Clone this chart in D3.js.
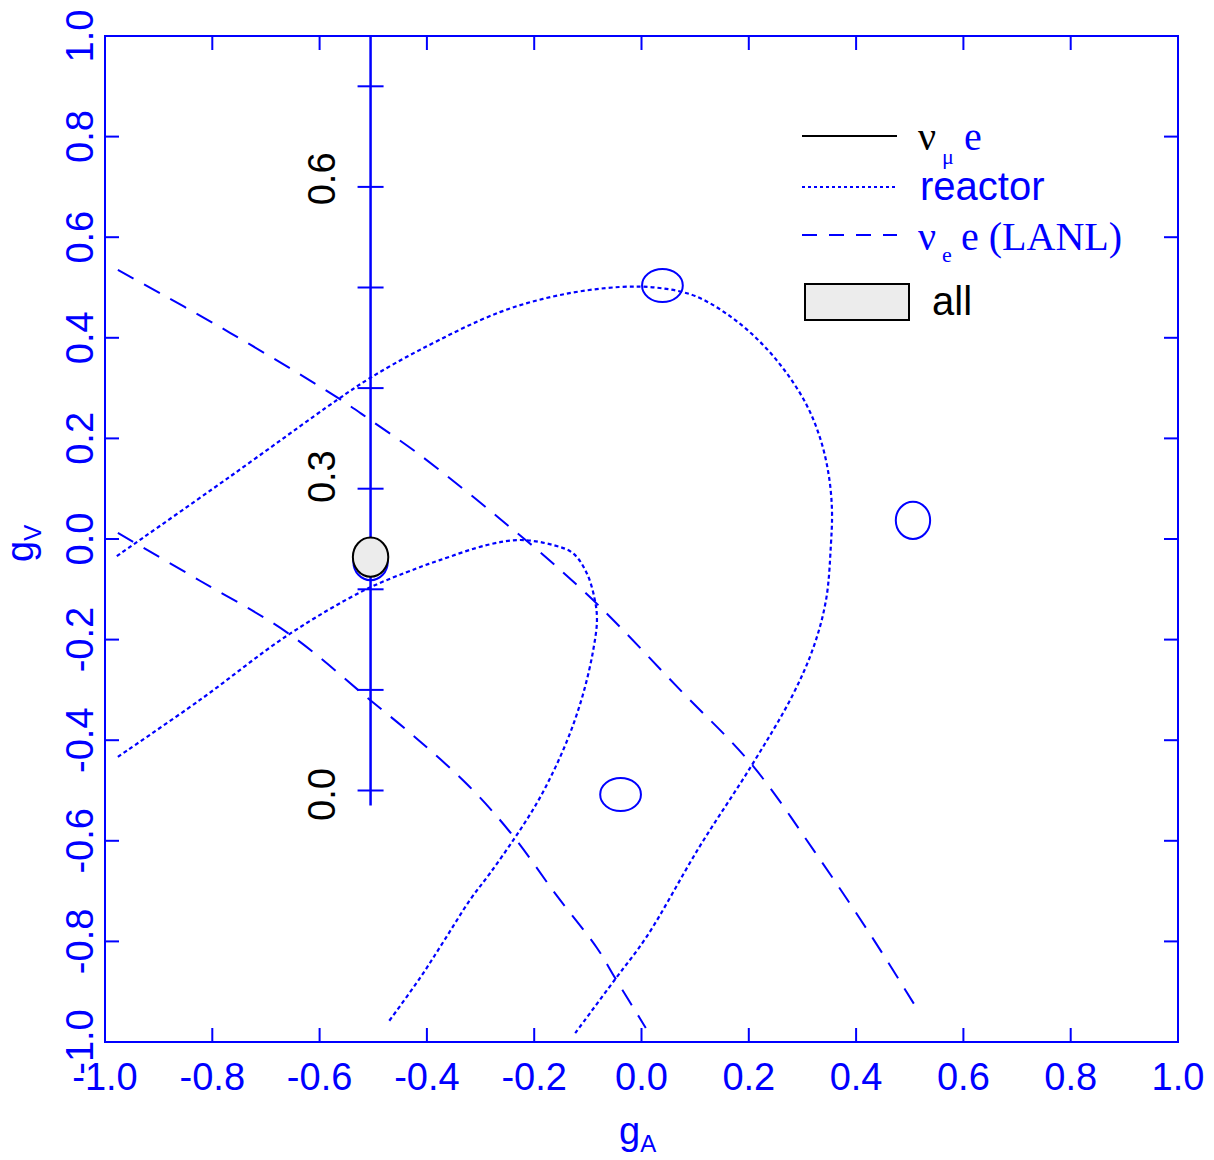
<!DOCTYPE html>
<html>
<head>
<meta charset="utf-8">
<script src="https://cdn.jsdelivr.net/npm/d3@7"></script>
<style>
  body { margin: 0; background: #fff; }
  svg { display: block; }
</style>
</head>
<body>
<div id="grafico"></div>
<script>
// eixos
var xTicks = [-1.0, -0.8, -0.6, -0.4, -0.2, 0.0, 0.2, 0.4, 0.6, 0.8, 1.0];
var yTicks = [-1.0, -0.8, -0.6, -0.4, -0.2, 0.0, 0.2, 0.4, 0.6, 0.8, 1.0];

// régua do modelo padrão (sin^2 theta_W)
var rulerGA = -0.505;
var rulerRange = [1.0, -0.53];
var rulerTicks = [-0.5, -0.3, -0.1, 0.1, 0.3, 0.5, 0.7, 0.9];
var rulerLabels = [{v: -0.5, t: "0.0"}, {v: 0.1, t: "0.3"}, {v: 0.7, t: "0.6"}];

// reactor (pontilhado) - duas curvas [gA, gV]
var reactorOuter = [
  [-0.978, -0.034], [-0.771, 0.121], [-0.568, 0.276], [-0.506, 0.320], [-0.413, 0.376],
  [-0.264, 0.451], [-0.152, 0.485], [-0.040, 0.501], [0.034, 0.499], [0.100, 0.483],
  [0.165, 0.443], [0.221, 0.392], [0.269, 0.332], [0.308, 0.266], [0.334, 0.197],
  [0.349, 0.127], [0.355, 0.058], [0.353, -0.012], [0.344, -0.121], [0.320, -0.217],
  [0.279, -0.316], [0.206, -0.449], [0.108, -0.612], [0.010, -0.790], [-0.049, -0.875],
  [-0.126, -0.986]
];
var reactorInner = [
  [-0.976, -0.433], [-0.823, -0.320], [-0.659, -0.191], [-0.515, -0.101], [-0.418, -0.058],
  [-0.376, -0.042], [-0.288, -0.012], [-0.226, -0.002], [-0.165, -0.012], [-0.128, -0.028],
  [-0.102, -0.068], [-0.087, -0.121], [-0.083, -0.161], [-0.090, -0.221], [-0.107, -0.301],
  [-0.131, -0.380], [-0.161, -0.455], [-0.195, -0.525], [-0.236, -0.594], [-0.282, -0.664],
  [-0.320, -0.718], [-0.367, -0.797], [-0.413, -0.873], [-0.473, -0.962]
];

// nu_e e (LANL) (tracejado)
var lanlUpper = [
  [-0.976, 0.535], [-0.767, 0.410], [-0.568, 0.282], [-0.506, 0.237], [-0.418, 0.171],
  [-0.307, 0.078], [-0.232, 0.012], [-0.189, -0.026], [-0.081, -0.131], [0.072, -0.300],
  [0.206, -0.449], [0.323, -0.622], [0.433, -0.797], [0.517, -0.940]
];
var lanlLower = [
  [-0.976, 0.012], [-0.823, -0.083], [-0.659, -0.187], [-0.506, -0.320], [-0.422, -0.394],
  [-0.320, -0.493], [-0.241, -0.588], [-0.160, -0.706], [-0.083, -0.813], [-0.049, -0.873],
  [0.008, -0.972]
];

// nu_mu e (elipses) e combinação "all"
var numuEllipses = [
  {gA: -0.505, gV: -0.045, rx: 0.032, ry: 0.037},
  {gA: 0.039, gV: 0.504, rx: 0.038, ry: 0.033},
  {gA: 0.506, gV: 0.037, rx: 0.032, ry: 0.037},
  {gA: -0.039, gV: -0.508, rx: 0.038, ry: 0.033}
];
var allEllipse = [{gA: -0.505, gV: -0.036, rx: 0.033, ry: 0.039}];

var width = 1214,
    height = 1160,
    azul = "#0000ff",
    sans = "'Liberation Sans', Arial, sans-serif",
    serif = "'Liberation Serif', 'Times New Roman', serif";

var x = d3.scaleLinear().domain([-1, 1]).range([105, 1178]);
var y = d3.scaleLinear().domain([-1, 1]).range([1042, 36]);

var svg = d3.select("#grafico").append("svg")
    .attr("width", width)
    .attr("height", height);

// moldura
svg.append("rect")
    .attr("x", x(-1)).attr("y", y(1))
    .attr("width", x(1) - x(-1)).attr("height", y(-1) - y(1))
    .attr("fill", "none").attr("stroke", azul).attr("stroke-width", 2);

// ticks para dentro nos 4 lados
var tk = 14;
var ticks = svg.append("g").attr("stroke", azul).attr("stroke-width", 2);
xTicks.forEach(function(v) {
  ticks.append("line").attr("x1", x(v)).attr("x2", x(v)).attr("y1", y(-1)).attr("y2", y(-1) - tk);
  ticks.append("line").attr("x1", x(v)).attr("x2", x(v)).attr("y1", y(1)).attr("y2", y(1) + tk);
});
yTicks.forEach(function(v) {
  ticks.append("line").attr("x1", x(-1)).attr("x2", x(-1) + tk).attr("y1", y(v)).attr("y2", y(v));
  ticks.append("line").attr("x1", x(1)).attr("x2", x(1) - tk).attr("y1", y(v)).attr("y2", y(v));
});

// rótulos
svg.append("g").selectAll("text").data(xTicks).enter().append("text")
    .attr("x", function(d) { return x(d); })
    .attr("y", 1090)
    .attr("text-anchor", "middle")
    .attr("font-family", sans).attr("font-size", 38).attr("fill", azul)
    .text(function(d) { return d.toFixed(1); });

svg.append("g").selectAll("text").data(yTicks).enter().append("text")
    .attr("transform", function(d) { return "translate(93," + y(d) + ") rotate(-90)"; })
    .attr("text-anchor", "middle")
    .attr("font-family", sans).attr("font-size", 38).attr("fill", azul)
    .text(function(d) { return d.toFixed(1); });

// títulos dos eixos
var tA = svg.append("text").attr("x", 619).attr("y", 1144)
    .attr("font-family", sans).attr("font-size", 38).attr("fill", azul);
tA.append("tspan").text("g");
tA.append("tspan").attr("font-size", 24).attr("dy", 8).text("A");

var tV = svg.append("text").attr("transform", "translate(33,562) rotate(-90)")
    .attr("font-family", sans).attr("font-size", 38).attr("fill", azul);
tV.append("tspan").text("g");
tV.append("tspan").attr("font-size", 24).attr("dy", 8).text("V");

// curvas
var linha = d3.line()
    .x(function(d) { return x(d[0]); })
    .y(function(d) { return y(d[1]); })
    .curve(d3.curveCatmullRom.alpha(0.5));

[reactorOuter, reactorInner].forEach(function(c) {
  svg.append("path").attr("d", linha(c))
      .attr("fill", "none").attr("stroke", azul).attr("stroke-width", 2.2)
      .attr("stroke-dasharray", "4,3");
});
[lanlUpper, lanlLower].forEach(function(c) {
  svg.append("path").attr("d", linha(c))
      .attr("fill", "none").attr("stroke", azul).attr("stroke-width", 2)
      .attr("stroke-dasharray", "18,12");
});

// régua
svg.append("line")
    .attr("x1", x(rulerGA)).attr("x2", x(rulerGA))
    .attr("y1", y(rulerRange[0])).attr("y2", y(rulerRange[1]))
    .attr("stroke", azul).attr("stroke-width", 2.5);
svg.append("g").selectAll("line").data(rulerTicks).enter().append("line")
    .attr("x1", x(rulerGA) - 13).attr("x2", x(rulerGA) + 13)
    .attr("y1", function(d) { return y(d); }).attr("y2", function(d) { return y(d); })
    .attr("stroke", azul).attr("stroke-width", 2);
var deslocRotulo = {"0.0": 4, "0.3": -12, "0.6": -8};
svg.append("g").selectAll("text").data(rulerLabels).enter().append("text")
    .attr("transform", function(d) { return "translate(335," + (y(d.v) + deslocRotulo[d.t]) + ") rotate(-90)"; })
    .attr("text-anchor", "middle")
    .attr("font-family", sans).attr("font-size", 38).attr("fill", "#000")
    .text(function(d) { return d.t; });

// elipses
function elipse(sel, dados) {
  return sel.selectAll("ellipse").data(dados).enter().append("ellipse")
      .attr("cx", function(d) { return x(d.gA); })
      .attr("cy", function(d) { return y(d.gV); })
      .attr("rx", function(d) { return x(d.rx) - x(0); })
      .attr("ry", function(d) { return y(0) - y(d.ry); });
}
elipse(svg.append("g"), numuEllipses)
    .attr("fill", "none").attr("stroke", azul).attr("stroke-width", 2);
elipse(svg.append("g"), allEllipse)
    .attr("fill", "#ececec").attr("stroke", "#000").attr("stroke-width", 2);

// legenda
var leg = svg.append("g");
leg.append("line").attr("x1", 802).attr("x2", 897).attr("y1", 136).attr("y2", 136)
    .attr("stroke", "#000").attr("stroke-width", 2);
leg.append("line").attr("x1", 802).attr("x2", 897).attr("y1", 187).attr("y2", 187)
    .attr("stroke", azul).attr("stroke-width", 2).attr("stroke-dasharray", "3,3");
leg.append("line").attr("x1", 802).attr("x2", 897).attr("y1", 235).attr("y2", 235)
    .attr("stroke", azul).attr("stroke-width", 2).attr("stroke-dasharray", "15,12");
leg.append("rect").attr("x", 805).attr("y", 284).attr("width", 104).attr("height", 36)
    .attr("fill", "#ececec").attr("stroke", "#000").attr("stroke-width", 2);

leg.append("text").attr("x", 918).attr("y", 150)
    .attr("font-family", serif).attr("font-size", 40).attr("fill", "#000").text("ν");
leg.append("text").attr("x", 942).attr("y", 164)
    .attr("font-family", serif).attr("font-size", 22).attr("fill", azul).text("μ");
leg.append("text").attr("x", 964).attr("y", 150)
    .attr("font-family", serif).attr("font-size", 40).attr("fill", azul).text("e");

leg.append("text").attr("x", 920).attr("y", 200)
    .attr("font-family", sans).attr("font-size", 40).attr("fill", azul).text("reactor");

leg.append("text").attr("x", 918).attr("y", 250)
    .attr("font-family", serif).attr("font-size", 40).attr("fill", azul).text("ν");
leg.append("text").attr("x", 942).attr("y", 262)
    .attr("font-family", serif).attr("font-size", 22).attr("fill", azul).text("e");
leg.append("text").attr("x", 961).attr("y", 250)
    .attr("font-family", serif).attr("font-size", 40).attr("fill", azul).text("e (LANL)");

leg.append("text").attr("x", 932).attr("y", 315)
    .attr("font-family", sans).attr("font-size", 40).attr("fill", "#000").text("all");
</script>
</body>
</html>
